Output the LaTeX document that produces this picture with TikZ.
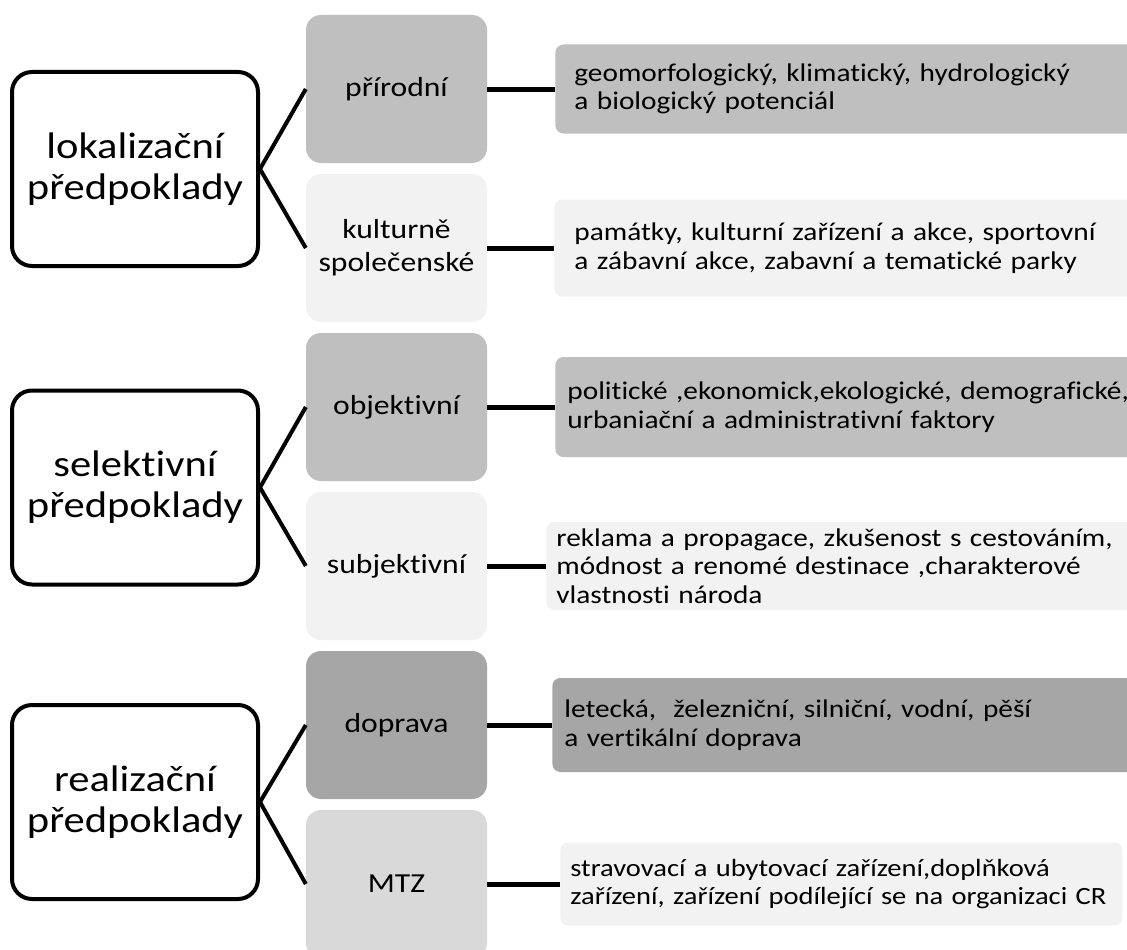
\documentclass[tikz,border=0pt]{standalone}
\usepackage{fontspec}
\setmainfont{Carlito}[FakeStretch=1.15, Ligatures=NoCommon]
\usepackage{xcolor}
\usepackage{tikz}
\usetikzlibrary{positioning}

\begin{document}
\begin{tikzpicture}[
  x=1pt, y=-1pt,
  node distance=10.6pt and 68pt,
  headbox/.style={draw, line width=4pt, rounded corners=20pt, fill=white, align=center,
                  minimum width=246pt, minimum height=194pt, inner sep=2pt,
                  font=\fontsize{37}{41}\selectfont},
  catbox/.style={rounded corners=15pt, align=center, minimum width=181pt,
                 minimum height=148pt, inner sep=2pt, font=\fontsize{27.5}{33}\selectfont},
  infobox/.style={rounded corners=8pt, align=left, text width=580pt, inner ysep=0pt,
                  inner xsep=12pt, font=\fontsize{25.5}{28.5}\selectfont},
  arm/.style={line width=4pt},
  stub/.style={line width=5pt}
]
\useasboundingbox (0,0) rectangle (1127,950);
\clip (0,0) rectangle (1127,950);

% main groups
\node[headbox] (lok) at (135,169) {lokalizační\\předpoklady};
\node[headbox] (sel) at (135,487.5) {selektivní\\předpoklady};
\node[headbox] (real) at (135,802) {realizační\\předpoklady};

% categories
\node[catbox, fill=black!25] (prir) at (396.5,89) {přírodní};
\node[catbox, fill=black!5, below=of prir] (kult) {kulturně\\společenské};
\node[catbox, fill=black!25, below=of kult] (obj) {objektivní};
\node[catbox, fill=black!5, below=of obj] (subj) {subjektivní};
\node[catbox, fill=black!35, below=of subj] (dopr) {doprava};
\node[catbox, fill=black!15, below=of dopr] (mtz) {MTZ};

% descriptions
\node[infobox, fill=black!25, inner xsep=19pt, minimum height=89pt, right=68pt of prir] (geo)
  {geomorfologický, klimatický, hydrologický\\a biologický potenciál};
\node[infobox, fill=black!5, inner xsep=20pt, minimum height=97pt, right=67pt of kult] (pam)
  {památky, kulturní zařízení a akce, sportovní\\a zábavní akce, zabavní a tematické parky};
\node[infobox, fill=black!25, minimum height=100pt, right=68pt of obj] (fakt)
  {politické ,ekonomick,ekologické, demografické,\\urbaniační a administrativní faktory};
\node[infobox, fill=black!5, inner xsep=10pt, minimum height=88pt, right=59pt of subj] (rekl)
  {reklama a propagace, zkušenost s cestováním,\\módnost a renomé destinace ,charakterové\\vlastnosti národa};
\node[infobox, fill=black!35, minimum height=94pt, right=65pt of dopr] (druhy)
  {letecká,~ železniční, silniční, vodní, pěší\\a vertikální doprava};
\node[infobox, fill=black!5, inner xsep=10pt, text width=542pt, minimum height=83pt,
      font=\fontsize{24.8}{28.5}\selectfont, right=73pt of mtz] (zar)
  {stravovací a ubytovací zařízení,doplňková\\\mbox{zařízení, zařízení podílející se na organizaci CR}};

\draw[arm] (lok.east) -- (prir.west);
\draw[arm] (lok.east) -- (kult.west);
\draw[arm] (sel.east) -- (obj.west);
\draw[arm] (sel.east) -- (subj.west);
\draw[arm] (real.east) -- (dopr.west);
\draw[arm] (real.east) -- (mtz.west);

\draw[stub] (prir) -- (geo);
\draw[stub] (kult) -- (pam);
\draw[stub] (obj) -- (fakt);
\draw[stub] (subj) -- (rekl);
\draw[stub] (dopr) -- (druhy);
\draw[stub] (mtz) -- (zar);
\end{tikzpicture}
\end{document}
